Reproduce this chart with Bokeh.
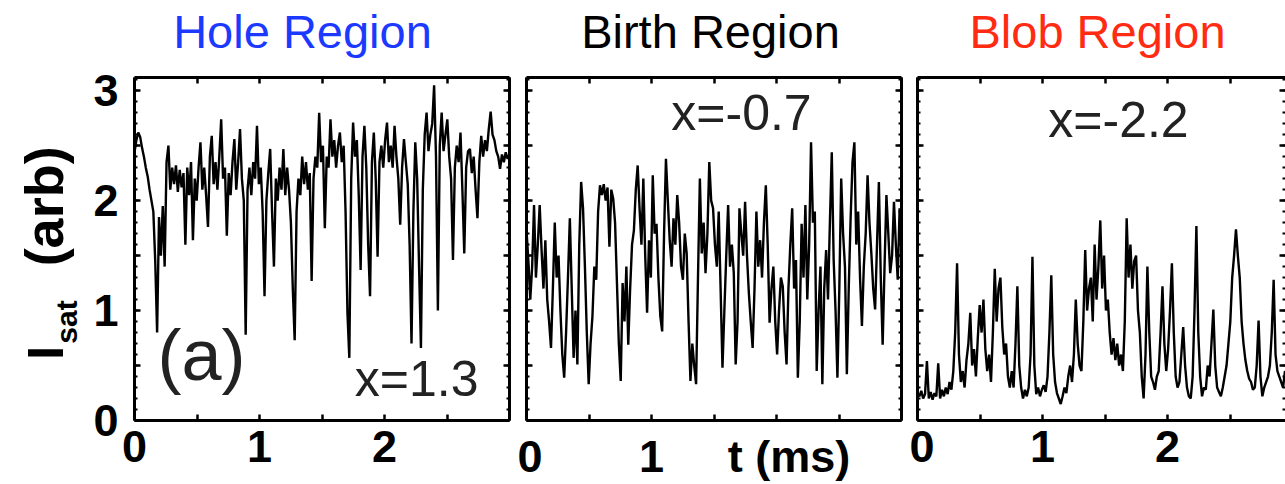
import numpy as np
from bokeh.plotting import figure
from bokeh.layouts import row, column
from bokeh.models import LinearAxis, FixedTicker, Label, Range1d, CustomJSTickFormatter
from bokeh.core.properties import value
from bokeh.embed import file_html
from bokeh.resources import INLINE

# ---------------- data ----------------
hole_isat = [
    2.44, 2.55, 2.62, 2.58, 2.48, 2.40, 2.30, 2.22, 2.10, 2.00,
    1.90, 1.45, 0.80, 1.85, 1.50, 1.95, 1.40, 2.35, 2.50, 2.10,
    2.30, 2.15, 2.32, 2.08, 2.28, 2.12, 2.25, 1.60, 2.30, 2.05,
    2.35, 1.64, 2.20, 2.00, 2.30, 2.53, 2.10, 2.30, 2.05, 1.76,
    2.40, 2.59, 2.15, 2.35, 2.10, 2.40, 2.74, 2.20, 2.30, 1.68,
    2.25, 2.05, 2.35, 2.56, 2.10, 2.35, 2.65, 2.20, 2.00, 0.78,
    2.10, 2.30, 2.05, 2.35, 2.20, 2.68, 2.15, 2.30, 1.90, 1.13,
    2.00, 2.25, 2.47, 1.90, 1.40, 2.20, 2.00, 2.30, 2.10, 2.47,
    2.05, 2.30, 2.10, 1.80, 1.20, 0.73, 1.90, 2.20, 2.05, 2.40,
    2.15, 2.35, 2.10, 2.25, 1.27, 2.20, 2.40, 2.30, 2.80, 2.35,
    2.50, 1.75, 2.40, 2.30, 2.74, 2.40, 2.55, 2.30, 2.50, 2.62,
    2.35, 2.50, 1.90, 0.98, 0.57, 2.20, 2.71, 2.40, 2.55, 2.05,
    1.37, 2.40, 2.68, 2.30, 1.60, 1.13, 2.35, 2.62, 2.20, 1.49,
    2.35, 2.50, 2.30, 2.55, 2.71, 2.35, 2.50, 2.30, 2.68, 2.40,
    2.20, 1.78, 2.30, 2.56, 2.35, 2.15, 1.60, 0.70, 1.90, 2.53,
    2.20, 1.40, 0.66, 2.10, 2.60, 2.80, 2.45, 2.60, 2.70, 3.05,
    2.40, 1.00, 2.50, 2.80, 2.45, 2.60, 2.74, 2.40, 2.20, 1.46,
    2.30, 2.50, 2.35, 2.62, 2.10, 1.52, 2.30, 2.45, 2.47, 2.25,
    2.40, 2.10, 1.84, 2.35, 2.59, 2.40, 2.55, 2.45, 2.65, 2.81,
    2.60, 2.55, 2.45, 2.40, 2.29, 2.42, 2.35, 2.44, 2.38, 2.42,
]

birth_isat = [
    1.73, 1.45, 1.10, 1.40, 1.96, 1.30, 1.60, 1.96, 1.55, 1.20,
    1.64, 1.10, 0.90, 0.66, 1.20, 1.80, 1.30, 1.50, 1.00, 0.60,
    0.39, 0.80, 1.30, 1.84, 1.20, 0.57, 1.00, 0.51, 1.60, 2.17,
    1.93, 1.40, 0.80, 0.33, 0.70, 0.95, 1.40, 1.28, 1.90, 2.14,
    2.05, 2.15, 2.00, 2.12, 1.58, 2.10, 2.02, 1.80, 1.25, 0.70,
    0.36, 1.25, 0.90, 1.40, 0.69, 1.20, 1.60, 1.73, 2.10, 2.32,
    1.93, 1.60, 2.20, 1.50, 0.98, 1.64, 1.30, 2.23, 1.70, 1.79,
    1.30, 0.95, 0.81, 1.70, 2.38, 2.00, 1.64, 1.40, 1.84, 1.60,
    2.05, 1.80, 1.40, 1.28, 1.70, 1.52, 0.90, 0.36, 0.70, 0.50,
    0.33, 1.30, 2.20, 1.52, 1.80, 1.34, 1.70, 2.35, 2.00, 1.93,
    1.60, 1.40, 1.90, 1.20, 0.48, 1.00, 1.50, 1.96, 1.40, 1.60,
    1.34, 0.51, 0.90, 1.93, 1.70, 1.50, 1.99, 1.50, 1.16, 0.90,
    0.66, 1.20, 1.90, 1.40, 1.64, 1.30, 1.80, 2.14, 1.60, 0.89,
    1.20, 1.40, 0.90, 0.60, 1.00, 1.30, 1.22, 0.80, 0.51, 1.20,
    1.60, 1.93, 1.20, 1.46, 0.39, 0.90, 1.79, 1.30, 1.96, 1.10,
    1.60, 2.53, 1.80, 1.90, 0.45, 1.00, 1.40, 0.33, 1.20, 1.55,
    1.10, 1.80, 2.44, 1.46, 1.00, 0.39, 1.20, 2.20, 1.70, 1.40,
    0.42, 1.20, 1.84, 2.35, 2.53, 1.60, 1.90, 1.30, 0.86, 1.40,
    1.70, 2.23, 1.80, 1.52, 1.20, 1.01, 1.60, 2.17, 1.30, 0.69,
    1.40, 2.05, 1.70, 1.34, 1.50, 1.99, 1.60, 1.28, 1.93, 1.70,
]

blob_isat = [
    0.25, 0.22, 0.27, 0.20, 0.24, 0.54, 0.20, 0.26, 0.19, 0.25,
    0.22, 0.52, 0.20, 0.28, 0.22, 0.30, 0.24, 0.35, 0.28, 0.45,
    0.80, 1.43, 0.60, 0.35, 0.45, 0.30, 0.55, 0.70, 0.98, 0.50,
    0.65, 0.40, 0.75, 1.05, 0.80, 1.10, 0.65, 0.45, 0.60, 0.35,
    0.80, 1.38, 0.90, 1.20, 1.30, 0.85, 0.60, 0.70, 0.40, 0.30,
    0.45, 0.30, 0.70, 1.22, 0.50, 0.30, 0.20, 0.28, 0.22, 0.30,
    0.60, 1.49, 0.50, 0.24, 0.30, 0.22, 0.28, 0.32, 0.26, 0.40,
    0.80, 1.32, 0.60, 0.35, 0.25, 0.20, 0.15, 0.22, 0.30, 0.25,
    0.40, 0.50, 0.35, 0.60, 1.10, 0.70, 0.50, 0.45, 0.90, 1.55,
    1.00, 1.20, 1.30, 0.90, 1.60, 1.10, 1.40, 1.82, 1.20, 1.50,
    1.00, 1.10, 0.80, 0.60, 0.75, 0.55, 0.70, 0.50, 0.60, 0.45,
    0.90, 1.84, 1.30, 1.60, 1.20, 1.45, 1.50, 1.00, 0.80, 0.40,
    0.20, 0.60, 1.40, 0.80, 0.40, 0.35, 0.28, 0.40, 0.45, 0.80,
    1.22, 0.70, 0.45, 0.65, 1.00, 1.43, 0.80, 0.40, 0.30, 0.35,
    0.60, 0.85, 0.50, 0.30, 0.22, 0.20, 0.40, 1.00, 1.77, 0.80,
    0.40, 0.22, 0.30, 0.28, 0.50, 0.40, 0.70, 1.01, 0.50, 0.30,
    0.26, 0.22, 0.30, 0.40, 0.50, 0.70, 0.90, 1.30, 1.50, 1.74,
    1.50, 1.30, 0.90, 0.70, 0.55, 0.45, 0.38, 0.35, 0.28, 0.30,
    0.50, 0.91, 0.40, 0.22, 0.30, 0.35, 0.40, 0.50, 0.80, 1.28,
    0.60, 0.45, 0.40, 0.35, 0.30, 0.45, 0.40, 0.50, 0.45, 0.42,
]

t_max_ms = 3.0
titles = ["Hole Region", "Birth Region", "Blob Region"]
title_colors = ["#1C3AFF", "#000000", "#FF2B12"]
positions = ["x=1.3", "x=-0.7", "x=-2.2"]
x_tick_values = [[0, 1, 2], [0, 1, 2.1], [0, 1, 2]]
x_tick_labels = [["0", "1", "2"], ["0", "1", "t (ms)"], ["0", "1", "2"]]
y_tick_values = [0, 1, 2, 3]
y_tick_labels = ["0", "1", "2", "3"]
y_label_parts = ["I", "sat", "(arb)"]
panel_tag = "(a)"

FONT = "Liberation Sans"
TICK_FONT_SIZE = "45px"
half_ticks = [0, 0.5, 1.0, 1.5, 2.0, 2.5, 3.0]
minor_y = [round(0.1 * i, 2) for i in range(32)]

CODE = """
for (let i = 0; i < keys.length; i++) {
  if (Math.abs(tick - keys[i]) < 1e-6) return labels[i];
}
return '';
"""


def make_axis(keys, labels, ticks, minor, standoff, line_alpha=1.0,
              major_in=6, minor_in=3, minor_w=2):
    return LinearAxis(
        ticker=FixedTicker(ticks=ticks, minor_ticks=minor),
        formatter=CustomJSTickFormatter(args=dict(keys=keys, labels=labels), code=CODE),
        axis_line_width=3, axis_line_color="black", axis_line_alpha=line_alpha,
        major_tick_in=major_in, major_tick_out=0, major_tick_line_width=2.5,
        minor_tick_in=minor_in, minor_tick_out=0, minor_tick_line_width=minor_w,
        major_label_standoff=standoff,
        major_label_text_font=FONT, major_label_text_font_style="bold",
        major_label_text_font_size=TICK_FONT_SIZE, major_label_text_color="black",
    )


HEAD_H = 60
MAIN_H = 484 - HEAD_H
TOP_PAD = 77 - HEAD_H
BOTTOM_PAD = 57
FRAME_TOP = 77
FRAME_BOTTOM = 484 - BOTTOM_PAD


def make_panel(idx, series, width, left, right, frame_w, right_line=True):
    xmax = t_max_ms * frame_w / 375.0
    p = figure(width=width, height=MAIN_H,
               x_range=Range1d(0, xmax), y_range=Range1d(0, 3.12),
               x_axis_type=None, y_axis_type=None,
               output_backend="svg", toolbar_location=None,
               min_border_left=left, min_border_right=right,
               min_border_top=TOP_PAD, min_border_bottom=BOTTOM_PAD)
    p.outline_line_color = None
    p.background_fill_color = "white"
    p.border_fill_color = "white"

    t = np.linspace(0, t_max_ms, len(series))
    p.line(t, series, line_color="black", line_width=2.4)

    if idx == 1:
        # tick marks every 0.5 ms drawn as minor ticks; labels (incl. axis title) as majors
        bottom = make_axis(x_tick_values[idx], x_tick_labels[idx], x_tick_values[idx],
                           half_ticks, 10, major_in=0, minor_in=6, minor_w=2.5)
    else:
        bottom = make_axis(x_tick_values[idx], x_tick_labels[idx], half_ticks, [], 10)
    p.add_layout(bottom, "below")
    if idx == 0:
        left_ax = make_axis(y_tick_values, y_tick_labels, half_ticks, minor_y, 16)
    else:
        left_ax = make_axis([], [], half_ticks, minor_y, 0)
    p.add_layout(left_ax, "left")
    p.add_layout(make_axis([], [], half_ticks, [], 0), "above")
    p.add_layout(make_axis([], [], half_ticks, minor_y, 0, 1.0 if right_line else 0.0), "right")
    return p


def blank_fig(width, height, y_top, y_bottom, top=0, bottom=0):
    # data coordinates of these strips equal page pixels (y grows downward)
    f = figure(width=width, height=height, x_range=Range1d(0, width),
               y_range=Range1d(y_bottom, y_top),
               x_axis_type=None, y_axis_type=None, output_backend="svg",
               toolbar_location=None, min_border_left=0, min_border_right=0,
               min_border_top=top, min_border_bottom=bottom)
    f.outline_line_color = None
    f.background_fill_color = "white"
    f.border_fill_color = "white"
    return f


# header with the three region titles
head = blank_fig(1285, HEAD_H, 0, HEAD_H)
for cx, txt, col in zip([302, 710, 1097], titles, title_colors):
    head.add_layout(Label(x=cx, y=30.5, text=txt, text_font=FONT, text_font_size="47px",
                          text_color=col, text_align="center", text_baseline="middle"))

# y axis title strip (rotated text glyphs); its frame matches the panels' frames
ylab = blank_fig(85, MAIN_H, FRAME_TOP, FRAME_BOTTOM, top=TOP_PAD, bottom=BOTTOM_PAD)
for (cx, cy, size), txt in zip([(45, 358, "50px"), (66, 326.5, "30px"), (43, 208.5, "54px")],
                               y_label_parts):
    ylab.text(x=[cx], y=[cy], text=[txt], angle=np.pi / 2,
              text_font=value(FONT), text_font_size=value(size), text_font_style="bold",
              text_color="black", text_align="center", text_baseline="middle")

p1 = make_panel(0, hole_isat, 432, 49, 8, 375)
p2 = make_panel(1, birth_isat, 392, 9, 8, 375)
p3 = make_panel(2, blob_isat, 376, 8, 0, 368, right_line=False)

TXT = "#222222"
p1.add_layout(Label(x=344, y=41.5, x_units="screen", y_units="screen", text=positions[0],
                    text_font=FONT, text_font_size="50px", text_color=TXT,
                    text_align="right", text_baseline="middle"))
p2.add_layout(Label(x=215, y=307.5, x_units="screen", y_units="screen", text=positions[1],
                    text_font=FONT, text_font_size="50px", text_color=TXT,
                    text_align="center", text_baseline="middle"))
p3.add_layout(Label(x=201, y=301, x_units="screen", y_units="screen", text=positions[2],
                    text_font=FONT, text_font_size="50px", text_color=TXT,
                    text_align="center", text_baseline="middle"))
p1.add_layout(Label(x=23, y=65.5, x_units="screen", y_units="screen", text=panel_tag,
                    text_font=FONT, text_font_size="72px", text_color=TXT,
                    text_align="left", text_baseline="middle"))

layout = column(head, row(ylab, p1, p2, p3, spacing=0), spacing=0)
open("out.html", "w").write(file_html(layout, INLINE))
